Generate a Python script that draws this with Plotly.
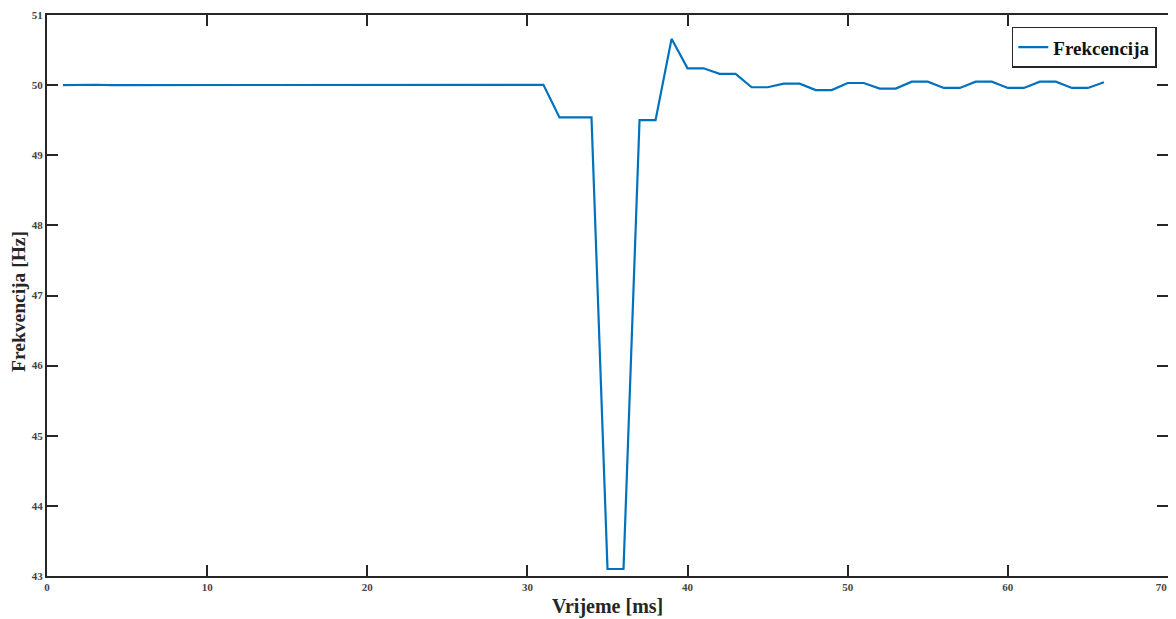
import plotly.graph_objects as go

time_ms = list(range(1, 67))
freq_hz = [
    50.00, 50.005, 50.005, 50.00, 50.00, 50.005, 50.005, 50.00, 50.00, 50.005,
    50.005, 50.00, 50.00, 50.005, 50.005, 50.00, 50.00, 50.005, 50.005, 50.00,
    50.00, 50.005, 50.005, 50.00, 50.00, 50.005, 50.005, 50.00, 50.00, 50.005,
    50.005,
    49.54, 49.54, 49.54,
    43.10, 43.10,
    49.50, 49.50,
    50.66,
    50.24, 50.24,
    50.16, 50.16,
    49.97, 49.97,
    50.02, 50.02,
    49.93, 49.93,
    50.03, 50.03,
    49.95, 49.95,
    50.05, 50.05,
    49.96, 49.96,
    50.05, 50.05,
    49.96, 49.96,
    50.05, 50.05,
    49.96, 49.96,
    50.04,
]
series_name = "Frekcencija"
x_title = "Vrijeme [ms]"
y_title = "Frekvencija [Hz]"
x_ticks = [0, 10, 20, 30, 40, 50, 60, 70]
x_tick_labels = ["0", "10", "20", "30", "40", "50", "60", "70"]
y_ticks = [43, 44, 45, 46, 47, 48, 49, 50, 51]

serif = "Liberation Serif, Times New Roman, serif"
axis_color = "#262626"

# last label sits just inside the right edge, as in the reference
x_tick_text = x_tick_labels[:-1] + [x_tick_labels[-1] + "\u00a0" * 5]

fig = go.Figure()
fig.add_trace(go.Scatter(
    x=time_ms, y=freq_hz, mode="lines", name=series_name,
    line=dict(color="#0072BD", width=2.2),
))

common_axis = dict(
    showgrid=False, zeroline=False, showline=True, linewidth=2,
    linecolor=axis_color, mirror="ticks", ticks="inside", ticklen=11,
    tickwidth=2, tickcolor=axis_color, automargin=False,
    ticklabeloverflow="allow",
    tickfont=dict(family=serif, size=11, color="#444444", weight="bold"),
)

fig.update_xaxes(range=[0, 70], tickvals=x_ticks, ticktext=x_tick_text, **common_axis)
fig.update_yaxes(range=[43, 51], tickvals=y_ticks, ticklabelstandoff=0, **common_axis)

fig.add_annotation(
    text=x_title, xref="paper", yref="paper", x=0.5, y=-0.055,
    xanchor="center", yanchor="middle", showarrow=False,
    font=dict(family=serif, size=20, color=axis_color, weight="bold"),
)
fig.add_annotation(
    text=y_title, xref="paper", yref="paper", x=-0.026, y=0.490,
    xanchor="center", yanchor="middle", showarrow=False, textangle=-90,
    font=dict(family=serif, size=19.5, color=axis_color, weight="bold"),
)

# The page body has an 8px default margin, so the figure is sized to fit the window.
fig.update_layout(
    width=1168, height=611,
    margin=dict(l=39, r=8, t=7, b=43),
    paper_bgcolor="white", plot_bgcolor="white",
    showlegend=True,
    legend=dict(
        x=0.990, y=0.979, xanchor="right", yanchor="top",
        bgcolor="white", bordercolor=axis_color, borderwidth=1.5,
        font=dict(family=serif, size=19, color="#111111", weight="bold"),
        itemwidth=30, tracegroupgap=0,
    ),
)

fig.write_html("out.html")
